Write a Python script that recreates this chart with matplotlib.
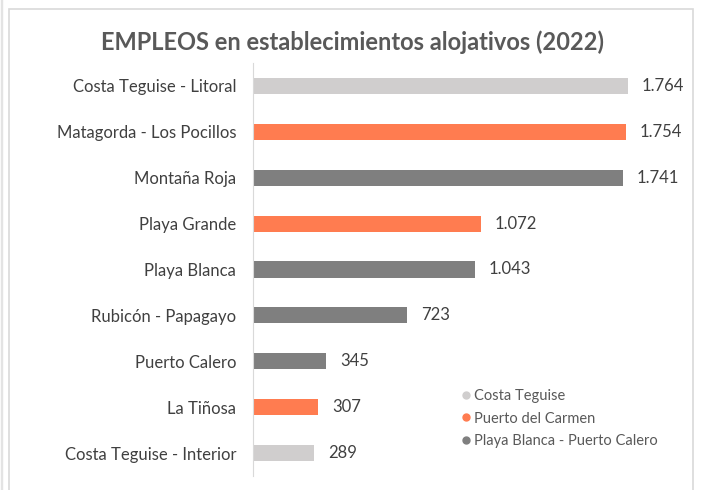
import matplotlib.pyplot as plt
from matplotlib.lines import Line2D
from matplotlib.patches import Rectangle

zonas = ["Costa Teguise - Litoral", "Matagorda - Los Pocillos", "Montaña Roja",
         "Playa Grande", "Playa Blanca", "Rubicón - Papagayo", "Puerto Calero",
         "La Tiñosa", "Costa Teguise - Interior"]
empleos = [1764, 1754, 1741, 1072, 1043, 723, 345, 307, 289]
grupo = ["Costa Teguise", "Puerto del Carmen", "Playa Blanca - Puerto Calero",
         "Puerto del Carmen", "Playa Blanca - Puerto Calero", "Playa Blanca - Puerto Calero",
         "Playa Blanca - Puerto Calero", "Puerto del Carmen", "Costa Teguise"]
grupos = ["Costa Teguise", "Puerto del Carmen", "Playa Blanca - Puerto Calero"]
colores = {"Costa Teguise": "#D0CECE", "Puerto del Carmen": "#FF7C50",
           "Playa Blanca - Puerto Calero": "#7F7F7F"}

plt.rcParams["font.family"] = ["Lato", "DejaVu Sans"]
texto = "#404040"

fig = plt.figure(figsize=(7.02, 4.90), dpi=100)
ax = fig.add_axes([253 / 702, 1 - 476 / 490, 425 / 702, 413 / 490])

y = list(range(len(zonas)))
ax.barh(y, empleos, height=0.35, color=[colores[g] for g in grupo])
for yi, v in zip(y, empleos):
    ax.text(v + 66, yi, f"{v:,}".replace(",", "."), va="center", ha="left",
            fontsize=12, color=texto)

ax.set_xlim(0, 2000)
ax.set_ylim(len(zonas) - 0.5, -0.5)
ax.set_yticks(y)
ax.set_yticklabels(zonas, fontsize=12, color=texto)
ax.tick_params(axis="y", length=0, pad=12)
ax.set_xticks([])
for s in ["top", "right", "bottom"]:
    ax.spines[s].set_visible(False)
ax.spines["left"].set_color("#D9D9D9")

fig.text(353 / 702, 1 - 42 / 490, "EMPLEOS en establecimientos alojativos (2022)",
         ha="center", va="center", fontsize=17, fontweight="bold", color="#595959")

handles = [Line2D([], [], marker="o", linestyle="", markersize=5,
                  color=colores[g]) for g in grupos]
fig.legend(handles, grupos, loc="upper left", bbox_to_anchor=(446 / 702, 1 - 383 / 490),
           frameon=False, fontsize=10.5, handletextpad=-0.5, labelspacing=0.6,
           labelcolor="#595959", borderaxespad=0)

fig.patches.append(Rectangle((9 / 702, -0.1), 684 / 702, 1.1 - 9 / 490,
                             transform=fig.transFigure, fill=False,
                             edgecolor="#D9D9D9", linewidth=1.2))
fig.patches.append(Rectangle((1 / 702, -0.1), 0.001, 1.2,
                             transform=fig.transFigure, fill=False,
                             edgecolor="#E3E3E3", linewidth=1))

fig.savefig("out.png", dpi=100)
